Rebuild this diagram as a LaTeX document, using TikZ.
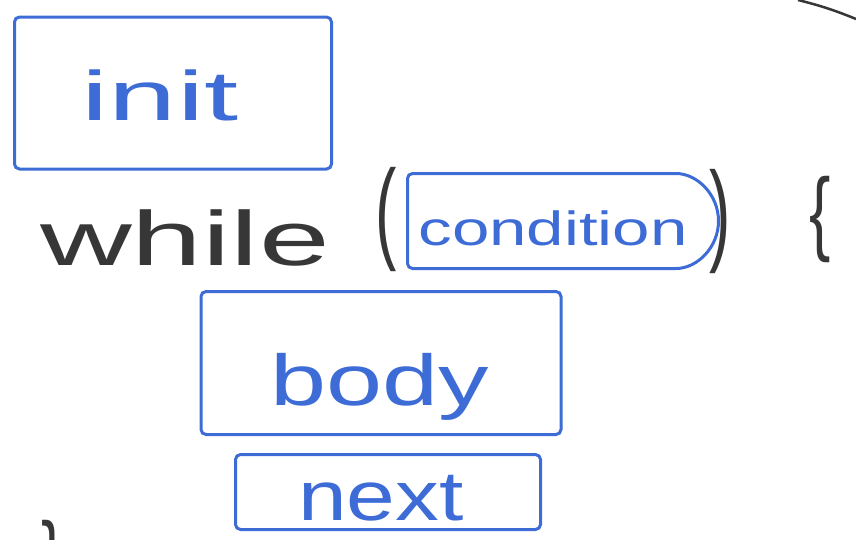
\documentclass[tikz,border=0pt]{standalone}
\usepackage{fontspec}
\setmainfont{Liberation Sans}
\usepackage{xcolor}
\usetikzlibrary{shapes.misc}
\definecolor{penblue}{RGB}{62,108,214}
\definecolor{penblack}{RGB}{55,55,55}
\tikzset{
  % handwritten words
  word/.style={inner sep=0pt, anchor=base, text=penblue, font=\fontsize{#1}{#1}\selectfont},
  % black keyword text
  kw/.style={word=#1, text=penblack},
  % blue boxes round the parts
  partbox/.style={draw=penblue, line width=3pt, rounded corners=5pt, inner sep=0pt},
}

\begin{document}
\begin{tikzpicture}[x=1pt, y=-1pt,
        pill/.style={partbox, rounded rectangle, rounded rectangle left arc=none},
        bracket/.style={inner sep=0pt, text=penblack, font=\fontsize{64}{64}\selectfont}
    ]
        \clip (0,0) rectangle (856,539);

        % init
        \node[partbox, minimum width=317pt, minimum height=152pt] (initbox) at (173,93) {};
        \node[word=70, xscale=1.75] (init) at (160,120) {init};

        % while ( condition ) {
        \node[kw=77, xscale=1.65] (while) at (185,265) {while};
        \node[bracket, yscale=1.75] (lparen) at (386,220) {(};
        \node[pill, minimum width=311pt, minimum height=95pt] (condbox) at (563,221) {};
        \node[word=48, xscale=1.4] (cond) at (553,245) {condition};
        \node[bracket, yscale=1.75] (rparen) at (720,222) {)};
        \node[bracket, yscale=1.45] (lbrace) at (820,219) {\{};

        % body
        \node[partbox, minimum width=360pt, minimum height=143pt] (bodybox) at (381,363) {};
        \node[word=72, xscale=1.4] (body) at (380,405) {body};

        % next
        \node[partbox, minimum width=305pt, minimum height=75pt] (nextbox) at (388,492) {};
        \node[word=70, xscale=1.25] (next) at (381,520) {next};

        % closing brace, cut off at the bottom
        \node[bracket, yscale=1.45] (rbrace) at (52,563) {\}};

        % stray stroke at the top right
        \draw[penblack, line width=2.5pt] (798,0) to[bend left=4] (856,19);
    \end{tikzpicture}
\end{document}
